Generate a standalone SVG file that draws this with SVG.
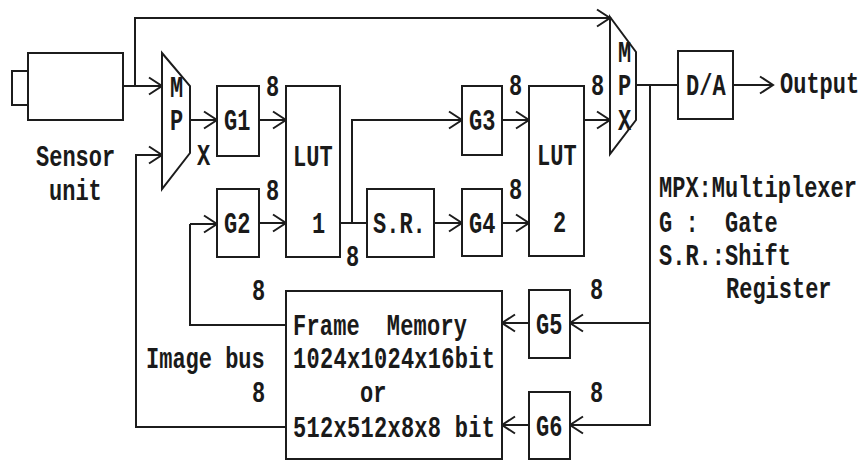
<svg xmlns="http://www.w3.org/2000/svg" width="861" height="460" viewBox="0 0 861 460">
<style>
.b{fill:#fff;stroke:#1c1c1c;stroke-width:2}
.c{fill:none;stroke:#1c1c1c;stroke-width:2}
text{font-family:"Liberation Mono",monospace;font-weight:700;font-size:22px;fill:#1a1a1a;white-space:pre}
</style>
<defs>
<marker id="a" markerUnits="userSpaceOnUse" markerWidth="16" markerHeight="20" refX="14" refY="10" orient="auto"><path d="M1 1.500L14 10L1 18.500" fill="none" stroke="#1c1c1c" stroke-width="2"/></marker>
</defs>
<rect width="861" height="460" fill="#fff"/>
<g id="connectors" class="c">
<path d="M123 86H162" marker-end="url(#a)"/>
<path d="M135 86V18H610" marker-end="url(#a)"/>
<path d="M190 120H217" marker-end="url(#a)"/>
<path d="M259 120H286" marker-end="url(#a)"/>
<path d="M190 224H217" marker-end="url(#a)"/>
<path d="M259 223H286" marker-end="url(#a)"/>
<path d="M340 223H367"/>
<path d="M352 223V120H462" marker-end="url(#a)"/>
<path d="M434 223H462" marker-end="url(#a)"/>
<path d="M502 120H529" marker-end="url(#a)"/>
<path d="M502 223H529" marker-end="url(#a)"/>
<path d="M584 120H610" marker-end="url(#a)"/>
<path d="M636 85H678"/>
<path d="M733 85H773" marker-end="url(#a)"/>
<path d="M650 85V425H570" marker-end="url(#a)"/>
<path d="M650 323H570" marker-end="url(#a)"/>
<path d="M529 323H502" marker-end="url(#a)"/>
<path d="M529 425H502" marker-end="url(#a)"/>
<path d="M286 325H190V224"/>
<path d="M286 427H136V155H162" marker-end="url(#a)"/>
</g>
<g id="sensor"><rect class="b" x="12" y="71" width="16" height="34"/><rect class="b" x="28" y="53" width="95" height="67"/>
<text transform="translate(36 166) scale(1 1.3)">Sensor</text><text transform="translate(49 200) scale(1 1.3)">unit</text></g>
<g id="mpx1"><path class="b" d="M162 53L190 86V153L162 189Z"/>
<text transform="translate(170 97) scale(1 1.3)">M</text><text transform="translate(170 130) scale(1 1.3)">P</text><text transform="translate(197 165) scale(1 1.3)">X</text></g>
<g id="g1"><rect class="b" x="217" y="86" width="42" height="70"/><text transform="translate(224 130) scale(1 1.3)">G1</text></g>
<g id="g2"><rect class="b" x="217" y="189" width="42" height="68"/><text transform="translate(224 233) scale(1 1.3)">G2</text></g>
<g id="lut1"><rect class="b" x="286" y="86" width="54" height="171"/><text transform="translate(293 166) scale(1 1.3)">LUT</text><text transform="translate(312 233) scale(1 1.3)">1</text></g>
<g id="sr"><rect class="b" x="367" y="189" width="67" height="68"/><text transform="translate(373 233) scale(1 1.3)">S.R.</text></g>
<g id="g3"><rect class="b" x="462" y="86" width="40" height="69"/><text transform="translate(469 130) scale(1 1.3)">G3</text></g>
<g id="g4"><rect class="b" x="462" y="189" width="40" height="67"/><text transform="translate(469 233) scale(1 1.3)">G4</text></g>
<g id="lut2"><rect class="b" x="529" y="86" width="55" height="170"/><text transform="translate(537 165) scale(1 1.3)">LUT</text><text transform="translate(553 232) scale(1 1.3)">2</text></g>
<g id="mpx2"><path class="b" d="M610 17L636 52V120L610 154Z"/>
<text transform="translate(618 62) scale(1 1.3)">M</text><text transform="translate(618 95) scale(1 1.3)">P</text><text transform="translate(618 130) scale(1 1.3)">X</text></g>
<g id="da"><rect class="b" x="678" y="51" width="55" height="68"/><text transform="translate(686 95) scale(1 1.3)">D/A</text></g>
<g id="g5"><rect class="b" x="529" y="290" width="41" height="68"/><text transform="translate(536 334) scale(1 1.3)">G5</text></g>
<g id="g6"><rect class="b" x="529" y="392" width="41" height="67"/><text transform="translate(536 436) scale(1 1.3)">G6</text></g>
<g id="frame-memory"><rect class="b" x="286" y="291" width="216" height="168"/>
<text transform="translate(293 335) scale(1 1.3)" textLength="174">Frame  Memory</text>
<text transform="translate(293 368) scale(1 1.3)" textLength="202">1024x1024x16bit</text>
<text transform="translate(360 402) scale(1 1.3)">or</text>
<text transform="translate(293 437) scale(1 1.3)" textLength="202">512x512x8x8 bit</text></g>
<g id="labels">
<text transform="translate(266 96) scale(1 1.3)">8</text>
<text transform="translate(266 200) scale(1 1.3)">8</text>
<text transform="translate(509 95) scale(1 1.3)">8</text>
<text transform="translate(509 199) scale(1 1.3)">8</text>
<text transform="translate(591 95) scale(1 1.3)">8</text>
<text transform="translate(346 266) scale(1 1.3)">8</text>
<text transform="translate(252 300) scale(1 1.3)">8</text>
<text transform="translate(252 402) scale(1 1.3)">8</text>
<text transform="translate(590 299) scale(1 1.3)">8</text>
<text transform="translate(590 402) scale(1 1.3)">8</text>
<text transform="translate(146 368) scale(1 1.3)">Image bus</text>
<text transform="translate(780 93) scale(1 1.3)">Output</text>
<text transform="translate(659 197) scale(1 1.3)">MPX:Multiplexer</text>
<text transform="translate(659 232) scale(1 1.3)">G :  Gate</text>
<text transform="translate(659 265) scale(1 1.3)">S.R.:Shift</text>
<text transform="translate(726 298) scale(1 1.3)">Register</text>
</g>
</svg>
